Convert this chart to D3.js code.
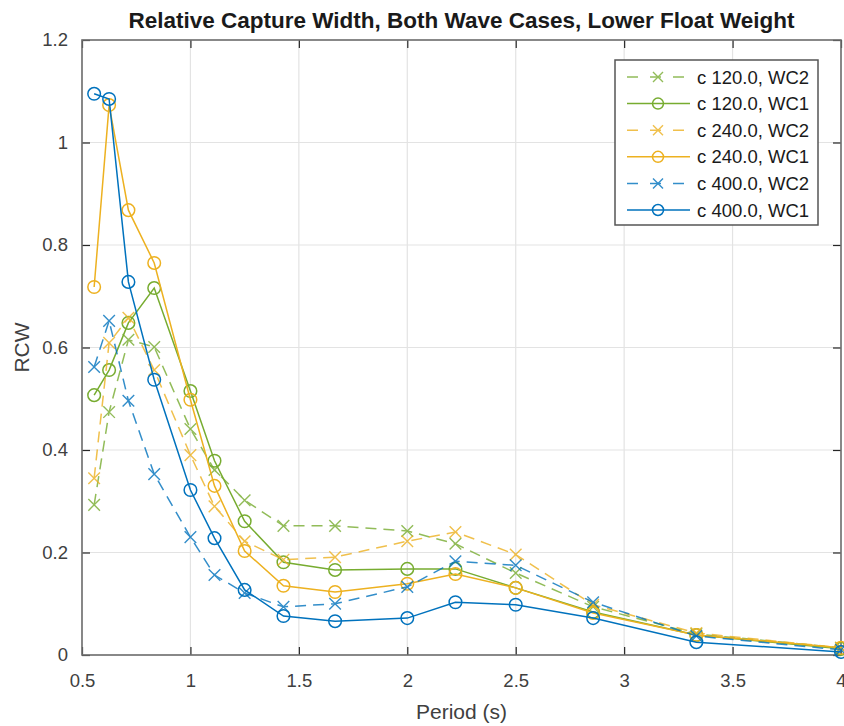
<!DOCTYPE html>
<html>
<head>
<meta charset="utf-8">
<script src="https://cdn.jsdelivr.net/npm/d3@7"></script>
<style>
  html, body { margin: 0; padding: 0; background: #ffffff; }
  svg { display: block; font-family: "Liberation Sans", Arial, Helvetica, sans-serif; }
</style>
</head>
<body>
<svg id="chart" width="844" height="726"></svg>
<script>
// ---------- DATA ----------
const periods = [0.556, 0.625, 0.714, 0.833, 1.0, 1.111, 1.25, 1.429, 1.667, 2.0, 2.222, 2.5, 2.857, 3.333, 4.0];

const c120_WC2 = [0.293, 0.474, 0.615, 0.601, 0.441, 0.361, 0.302, 0.252, 0.252, 0.242, 0.217, 0.160, 0.094, 0.041, 0.014];
const c120_WC1 = [0.507, 0.556, 0.648, 0.716, 0.515, 0.379, 0.261, 0.181, 0.166, 0.168, 0.168, 0.131, 0.084, 0.039, 0.012];
const c240_WC2 = [0.345, 0.609, 0.658, 0.556, 0.390, 0.290, 0.222, 0.186, 0.191, 0.222, 0.240, 0.196, 0.098, 0.043, 0.014];
const c240_WC1 = [0.718, 1.073, 0.868, 0.765, 0.498, 0.330, 0.203, 0.135, 0.123, 0.139, 0.158, 0.131, 0.082, 0.039, 0.014];
const c400_WC2 = [0.562, 0.652, 0.496, 0.353, 0.230, 0.156, 0.121, 0.094, 0.100, 0.133, 0.183, 0.175, 0.103, 0.037, 0.010];
const c400_WC1 = [1.095, 1.085, 0.728, 0.537, 0.322, 0.228, 0.127, 0.076, 0.066, 0.072, 0.103, 0.098, 0.072, 0.025, 0.006];

const seriesNames = ["c 120.0, WC2", "c 120.0, WC1", "c 240.0, WC2", "c 240.0, WC1", "c 400.0, WC2", "c 400.0, WC1"];
const seriesValues = [c120_WC2, c120_WC1, c240_WC2, c240_WC1, c400_WC2, c400_WC1];
const seriesColors = ["#77AC30", "#77AC30", "#EDB120", "#EDB120", "#0072BD", "#0072BD"];
const seriesDashed = [true, false, true, false, true, false];
const seriesMarkers = ["x", "o", "x", "o", "x", "o"];

const xTicks = [0.5, 1, 1.5, 2, 2.5, 3, 3.5, 4];
const yTicks = [0, 0.2, 0.4, 0.6, 0.8, 1.0, 1.2];

const titleText = "Relative Capture Width, Both Wave Cases, Lower Float Weight";
const xLabelText = "Period (s)";
const yLabelText = "RCW";

// ---------- LAYOUT ----------
const L = 82, R = 841, T = 40, B = 655;
const svg = d3.select("#chart");
const x = d3.scaleLinear().domain([0.5, 4]).range([L, R]);
const y = d3.scaleLinear().domain([0, 1.2]).range([B, T]);

const axisColor = "#262626";
const tickLen = 8;

// grid
const grid = svg.append("g");
grid.selectAll("line.vx").data(xTicks).enter().append("line")
  .attr("x1", d => x(d)).attr("x2", d => x(d)).attr("y1", T).attr("y2", B)
  .attr("stroke", "#e3e3e3").attr("stroke-width", 1.2);
grid.selectAll("line.hy").data(yTicks).enter().append("line")
  .attr("y1", d => y(d)).attr("y2", d => y(d)).attr("x1", L).attr("x2", R)
  .attr("stroke", "#e3e3e3").attr("stroke-width", 1.2);

// axes via d3 axis generators (inward ticks)
const fmt = d => d3.format("")(+d.toFixed(1));
const xAxisB = d3.axisBottom(x).tickValues(xTicks).tickSize(-tickLen).tickPadding(19).tickFormat(fmt);
const xAxisT = d3.axisTop(x).tickValues(xTicks).tickSize(-tickLen).tickFormat("");
const yAxisL = d3.axisLeft(y).tickValues(yTicks).tickSize(-tickLen).tickPadding(14).tickFormat(fmt);
const yAxisR = d3.axisRight(y).tickValues(yTicks).tickSize(-tickLen).tickFormat("");

function styleAxis(g) {
  g.select(".domain").remove();
  g.selectAll(".tick line").attr("stroke", axisColor).attr("stroke-width", 1.2);
  g.selectAll(".tick text").attr("fill", "#404040").attr("font-size", 18.5)
    .attr("font-family", "'Liberation Sans', Arial, sans-serif");
}
svg.append("g").attr("transform", `translate(0,${B})`).call(xAxisB).call(styleAxis);
svg.append("g").attr("transform", `translate(0,${T})`).call(xAxisT).call(styleAxis);
svg.append("g").attr("transform", `translate(${L},0)`).call(yAxisL).call(styleAxis);
svg.append("g").attr("transform", `translate(${R},0)`).call(yAxisR).call(styleAxis);

// box
svg.append("rect").attr("x", L).attr("y", T).attr("width", R - L).attr("height", B - T)
  .attr("fill", "none").attr("stroke", "#6e6e6e").attr("stroke-width", 1.6);

// series
const line = d3.line().x(d => x(d[0])).y(d => y(d[1]));
const plot = svg.append("g");

function drawMarker(g, type, cx, cy, color, r) {
  if (type === "o") {
    g.append("circle").attr("cx", cx).attr("cy", cy).attr("r", r)
      .attr("fill", "none").attr("stroke", color).attr("stroke-width", 1.5);
  } else {
    g.append("path")
      .attr("d", `M${cx - r},${cy - r}L${cx + r},${cy + r}M${cx - r},${cy + r}L${cx + r},${cy - r}`)
      .attr("stroke", color).attr("stroke-width", 1.4).attr("fill", "none");
  }
}

seriesValues.forEach((vals, i) => {
  const pts = periods.map((p, j) => [p, vals[j]]);
  const g = plot.append("g").attr("opacity", seriesDashed[i] ? 0.8 : 1);
  g.append("path").datum(pts).attr("d", line)
    .attr("fill", "none").attr("stroke", seriesColors[i]).attr("stroke-width", 1.5)
    .attr("stroke-dasharray", seriesDashed[i] ? "11,7" : null);
  pts.forEach(p => drawMarker(g, seriesMarkers[i], x(p[0]), y(p[1]), seriesColors[i], seriesMarkers[i] === "o" ? 6.3 : 5.8));
});

// title and labels
svg.append("text").attr("x", (L + R) / 2).attr("y", 28).attr("text-anchor", "middle")
  .attr("font-size", 22.5).attr("font-weight", "bold").attr("fill", "#1a1a1a").text(titleText);
svg.append("text").attr("x", (L + R) / 2).attr("y", 719).attr("text-anchor", "middle")
  .attr("font-size", 21).attr("fill", "#404040").text(xLabelText);
svg.append("text").attr("transform", `translate(29,${(T + B) / 2}) rotate(-90)`).attr("text-anchor", "middle")
  .attr("font-size", 21).attr("fill", "#404040").text(yLabelText);

// legend
const lgX = 615, lgY = 60, lgW = 203, lgH = 165, rowH = 26.6;
const lg = svg.append("g");
lg.append("rect").attr("x", lgX).attr("y", lgY).attr("width", lgW).attr("height", lgH)
  .attr("fill", "#ffffff").attr("stroke", "#555555").attr("stroke-width", 1.5);
seriesNames.forEach((name, i) => {
  const cy = lgY + 17 + i * rowH;
  const gi = lg.append("g").attr("opacity", seriesDashed[i] ? 0.8 : 1);
  gi.append("line").attr("x1", 627).attr("x2", 690).attr("y1", cy).attr("y2", cy)
    .attr("stroke", seriesColors[i]).attr("stroke-width", 1.5)
    .attr("stroke-dasharray", seriesDashed[i] ? "11,12" : null);
  drawMarker(gi, seriesMarkers[i], 658, cy, seriesColors[i], seriesMarkers[i] === "o" ? 5.5 : 5);
  lg.append("text").attr("x", 697).attr("y", cy + 6.5).attr("font-size", 18.5)
    .attr("fill", "#1a1a1a").text(name);
});
</script>
</body>
</html>
